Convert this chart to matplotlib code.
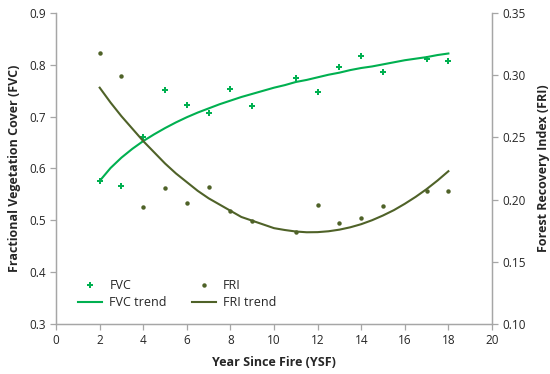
import matplotlib
matplotlib.use("Agg")
import matplotlib.pyplot as plt
from matplotlib.lines import Line2D

# Data
years = [2, 3, 4, 5, 6, 7, 8, 9, 11, 12, 13, 14, 15, 17, 18]
fvc = [0.576, 0.567, 0.661, 0.751, 0.722, 0.708, 0.754, 0.720,
       0.775, 0.747, 0.796, 0.818, 0.786, 0.811, 0.807]
fri = [0.318, 0.299, 0.194, 0.209, 0.197, 0.210, 0.191, 0.183,
       0.174, 0.196, 0.181, 0.185, 0.195, 0.207, 0.207]

# Trend lines every half year
trend_years = [2, 2.5, 3, 3.5, 4, 4.5, 5, 5.5, 6, 6.5, 7, 7.5, 8, 8.5, 9, 9.5,
               10, 10.5, 11, 11.5, 12, 12.5, 13, 13.5, 14, 14.5, 15, 15.5,
               16, 16.5, 17, 17.5, 18]
fvc_trend = [0.576, 0.601, 0.621, 0.638, 0.653, 0.666, 0.678, 0.689, 0.699,
             0.708, 0.716, 0.724, 0.731, 0.738, 0.744, 0.750, 0.756, 0.761,
             0.767, 0.771, 0.776, 0.781, 0.785, 0.790, 0.794, 0.797, 0.801,
             0.805, 0.809, 0.812, 0.815, 0.819, 0.822]
fri_trend = [0.290, 0.278, 0.267, 0.257, 0.247, 0.238, 0.229, 0.221, 0.214,
             0.207, 0.201, 0.196, 0.191, 0.186, 0.183, 0.180, 0.177, 0.1755,
             0.1743, 0.1737, 0.1738, 0.1745, 0.1758, 0.1777, 0.1802, 0.1834,
             0.1872, 0.1915, 0.1966, 0.2022, 0.2084, 0.2153, 0.2228]

x_ticks = [0, 2, 4, 6, 8, 10, 12, 14, 16, 18, 20]
fvc_ticks = [0.3, 0.4, 0.5, 0.6, 0.7, 0.8, 0.9]
fri_ticks = [0.10, 0.15, 0.20, 0.25, 0.30, 0.35]

green = "#00B050"
olive = "#4F6228"
gray = "#A6A6A6"
text_col = "#262626"

plt.rcParams['font.family'] = ['Open Sans', 'DejaVu Sans']

fig = plt.figure(figsize=(5.5, 3.74), dpi=100)
ax = fig.add_axes([0.102, 0.134, 0.7925, 0.831])
ax2 = ax.twinx()

ax.plot(years, fvc, linestyle='none', marker='P', markersize=4,
        color=green, markeredgewidth=0)
ax.plot(trend_years, fvc_trend, color=green, linewidth=1.5)
ax2.plot(years, fri, linestyle='none', marker='o', markersize=3.2,
         color=olive, markeredgewidth=0)
ax2.plot(trend_years, fri_trend, color=olive, linewidth=1.5)

ax.set_xlim(0, 20)
ax.set_ylim(0.3, 0.9)
ax2.set_ylim(0.10, 0.35)
ax.set_xticks(x_ticks)
ax.set_yticks(fvc_ticks)
ax.set_yticklabels([f"{v:.1f}" for v in fvc_ticks])
ax2.set_yticks(fri_ticks)
ax2.set_yticklabels([f"{v:.2f}" for v in fri_ticks])

for a in (ax, ax2):
    for s in a.spines.values():
        s.set_color(gray)
        s.set_linewidth(0.9)
    a.spines['top'].set_visible(False)
    a.tick_params(axis='both', colors=gray, labelcolor=text_col,
                  labelsize=8.5, length=4, width=0.9, direction='out')

ax.set_xlabel("Year Since Fire (YSF)", fontsize=9, fontweight='bold',
              color=text_col, labelpad=6)
ax.set_ylabel("Fractional Vegetation Cover (FVC)", fontsize=9,
              fontweight='bold', color=text_col, labelpad=6)
ax2.set_ylabel("Forest Recovery Index (FRI)", fontsize=9, fontweight='bold',
               color=text_col, labelpad=8)

handles = [
    Line2D([], [], linestyle='none', marker='P', markersize=4, color=green,
           markeredgewidth=0),
    Line2D([], [], color=green, linewidth=1.5),
    Line2D([], [], linestyle='none', marker='o', markersize=3.2, color=olive,
           markeredgewidth=0),
    Line2D([], [], color=olive, linewidth=1.5),
]
labels = ["FVC", "FVC trend", "FRI", "FRI trend"]
leg = ax.legend(handles, labels, ncol=2, loc='lower left',
                bbox_to_anchor=(0.025, 0.012), frameon=False, fontsize=9,
                handlelength=1.9, handletextpad=0.6, columnspacing=2.0,
                labelspacing=0.3)
for t in leg.get_texts():
    t.set_color(text_col)

fig.savefig("out.png", dpi=100)
